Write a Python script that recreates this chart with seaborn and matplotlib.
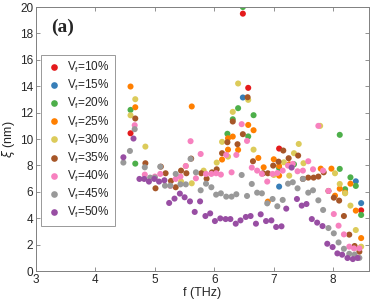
import numpy as np
import pandas as pd
import matplotlib
matplotlib.use("Agg")
import matplotlib.pyplot as plt
import seaborn as sns

# values (f in THz, xi in nm)
labels = ['10%', '15%', '20%', '25%', '30%', '35%', '40%', '45%', '50%']
colors = ['#e41a1c', '#377eb8', '#4daf4a', '#ff7f00', '#dccb5a',
          '#a65628', '#f781bf', '#999999', '#984ea3']

f_10 = [4.59, 6.48, 6.57, 7.09, 8.47]
xi_10 = [10.44, 19.5, 13.88, 9.28, 4.60]

f_15 = [6.48, 7.09, 8.38, 8.47]
xi_15 = [13.15, 6.40, 6.80, 5.15]

f_20 = [4.59, 4.67, 6.22, 6.31, 6.40, 6.48, 6.57, 6.66, 7.09, 7.34,
        8.11, 8.11, 8.20, 8.29, 8.38, 8.47]
xi_20 = [12.21, 8.14, 10.40, 11.5, 12.34, 20.0, 10.2, 11.81, 7.79, 8.09,
         10.32, 7.74, 6.2, 7.1, 6.45, 4.25]

f_25 = [4.59, 4.67, 5.62, 6.13, 6.23, 6.23, 6.31, 6.40, 6.57, 6.66,
        6.74, 6.83, 6.90, 7.00, 7.09, 7.09, 7.26, 7.79, 7.97, 8.03,
        8.11, 8.20, 8.29, 8.38, 8.47]
xi_25 = [13.98, 12.41, 12.47, 8.45, 9.20, 10.06, 10.19, 9.18, 11.07, 10.67,
         8.57, 7.86, 5.26, 8.47, 7.96, 7.23, 8.09, 7.76, 7.76, 5.71,
         6.24, 5.94, 6.62, 4.58, 2.50]

f_30 = [4.59, 4.67, 4.84, 5.44, 5.52, 5.62, 5.82, 6.04, 6.13, 6.23,
        6.31, 6.40, 6.57, 6.66, 7.00, 7.17, 7.26, 7.34, 7.42, 7.50,
        7.78, 8.03, 8.11, 8.20, 8.29, 8.38, 8.47]
xi_30 = [11.8, 13.02, 9.43, 6.79, 7.96, 6.65, 7.61, 8.22, 9.79, 8.67,
         12.06, 14.21, 12.97, 9.20, 7.28, 8.24, 7.23, 8.93, 9.63, 8.17,
         11.0, 7.41, 6.60, 5.89, 4.96, 3.11, 1.85]

f_35 = [4.67, 4.84, 5.01, 5.10, 5.18, 5.27, 5.35, 5.44, 5.53, 5.61,
        5.78, 5.87, 5.96, 6.04, 6.13, 6.22, 6.31, 6.39, 6.48, 6.56,
        6.65, 6.82, 6.90, 6.99, 7.08, 7.16, 7.25, 7.41, 7.49, 7.58,
        7.67, 7.75, 7.84, 7.92, 8.01, 8.10, 8.18, 8.27, 8.36, 8.44]
xi_35 = [11.56, 8.17, 6.27, 7.91, 7.41, 6.83, 6.35, 7.61, 7.41, 8.52,
         7.41, 7.00, 7.48, 7.71, 8.93, 9.76, 11.33, 9.61, 10.37, 13.17,
         8.32, 7.41, 7.41, 7.99, 8.29, 9.13, 8.55, 8.75, 6.98, 7.08,
         7.08, 7.16, 7.48, 6.07, 5.56, 5.34, 4.17, 2.76, 1.90, 1.47]

f_40 = [4.66, 4.83, 5.00, 5.09, 5.26, 5.35, 5.43, 5.52, 5.60, 5.69,
        5.77, 5.86, 5.95, 6.03, 6.11, 6.20, 6.29, 6.37, 6.46, 6.55,
        6.63, 6.72, 6.80, 6.89, 6.98, 7.06, 7.15, 7.24, 7.32, 7.40,
        7.49, 7.58, 7.66, 7.75, 7.83, 7.92, 8.01, 8.09, 8.18, 8.27,
        8.35, 8.44]
xi_40 = [11.05, 7.31, 7.16, 7.36, 6.45, 6.98, 7.16, 7.96, 9.84, 7.03,
         8.87, 7.36, 7.36, 7.41, 7.31, 8.80, 7.48, 8.80, 11.13, 9.86,
         7.84, 7.61, 7.36, 6.78, 7.36, 7.43, 7.61, 7.99, 8.12, 7.56,
         7.61, 8.32, 7.71, 11.0, 7.61, 6.07, 4.32, 3.44, 2.78, 1.85,
         1.72, 1.72]

f_45 = [4.47, 4.58, 4.66, 4.83, 4.92, 5.00, 5.09, 5.17, 5.26, 5.35,
        5.43, 5.52, 5.60, 5.69, 5.77, 5.86, 5.95, 6.03, 6.11, 6.20,
        6.29, 6.37, 6.46, 6.55, 6.63, 6.72, 6.80, 6.89, 6.98, 7.06,
        7.15, 7.24, 7.32, 7.40, 7.49, 7.58, 7.66, 7.75, 7.83, 7.92,
        8.01, 8.09, 8.18, 8.27, 8.36, 8.44]
xi_45 = [8.22, 9.10, 10.75, 7.86, 7.08, 7.08, 7.91, 6.47, 6.47, 7.36,
         6.57, 6.57, 8.50, 7.48, 6.12, 6.62, 6.35, 5.79, 5.89, 5.64,
         5.64, 5.82, 7.28, 5.69, 6.60, 5.94, 5.89, 5.13, 5.46, 4.91,
         5.39, 6.62, 6.73, 6.27, 6.98, 5.94, 6.12, 5.36, 4.63, 3.26,
         2.86, 2.17, 1.69, 1.31, 1.25, 1.00]

f_50 = [4.47, 4.64, 4.74, 4.82, 4.90, 4.99, 5.07, 5.16, 5.24, 5.33,
        5.42, 5.50, 5.59, 5.67, 5.76, 5.85, 5.93, 6.01, 6.10, 6.19,
        6.27, 6.36, 6.44, 6.53, 6.61, 6.70, 6.78, 6.87, 6.96, 7.04,
        7.13, 7.21, 7.30, 7.39, 7.47, 7.55, 7.64, 7.73, 7.82, 7.90,
        7.99, 8.07, 8.15, 8.24, 8.33, 8.41]
xi_50 = [8.62, 10.04, 6.98, 6.98, 6.78, 6.98, 6.78, 6.88, 5.16, 5.49,
         5.87, 5.59, 5.28, 4.48, 5.28, 4.17, 4.37, 3.79, 3.99, 3.94,
         3.94, 3.59, 3.84, 4.10, 4.17, 3.59, 4.30, 3.79, 3.84, 3.34,
         3.39, 4.73, 7.84, 5.46, 4.96, 5.08, 3.94, 3.67, 3.41, 2.07,
         1.82, 1.34, 1.24, 0.99, 0.91, 0.99]

all_f = [f_10, f_15, f_20, f_25, f_30, f_35, f_40, f_45, f_50]
all_xi = [xi_10, xi_15, xi_20, xi_25, xi_30, xi_35, xi_40, xi_45, xi_50]

rows = []
for lab, fs, xs in zip(labels, all_f, all_xi):
    for f, x in zip(fs, xs):
        rows.append({'f': f, 'xi': x, 'Vf': r'V$_\mathregular{f}$=' + lab})
df = pd.DataFrame(rows)
hue_order = [r'V$_\mathregular{f}$=' + l for l in labels]

sns.set_style('ticks')
plt.rcParams['font.family'] = ['Liberation Sans', 'DejaVu Sans']
plt.rcParams['mathtext.fontset'] = 'custom'
plt.rcParams['mathtext.rm'] = 'Liberation Sans'

fig = plt.figure(figsize=(3.74, 3.07), dpi=100)
ax = fig.add_axes([0.0963, 0.117, 0.890, 0.860])

sns.scatterplot(data=df, x='f', y='xi', hue='Vf', hue_order=hue_order,
                palette=colors, s=19, linewidth=0, ax=ax, legend=True)

ax.set_xlim(3, 8.6)
ax.set_ylim(0, 20)
ax.set_xticks([3, 4, 5, 6, 7, 8])
ax.set_yticks(np.arange(0, 21, 2))
ax.set_xlabel('f (THz)', fontsize=9, labelpad=1)
ax.set_ylabel(r'$\xi$ (nm)', fontsize=9, labelpad=2)
ax.tick_params(direction='in', length=3, width=0.6, labelsize=8.5,
               colors='#262626', pad=2, top=True, right=True)
for sp in ax.spines.values():
    sp.set_visible(True)
    sp.set_color('#808080')
    sp.set_linewidth(0.7)
ax.tick_params(color='#808080')

ax.text(0.046, 0.955, '(a)', transform=ax.transAxes, fontsize=14,
        fontweight='bold', family='Liberation Serif', va='top')

leg = ax.legend(loc='upper left', bbox_to_anchor=(0.014, 0.82),
                fontsize=8.5, frameon=True, fancybox=False,
                borderpad=0.45, labelspacing=0.26, handletextpad=0.5,
                handlelength=1.3, markerscale=1.1, borderaxespad=0)
leg.get_frame().set_edgecolor('#808080')
leg.get_frame().set_linewidth(0.7)

fig.savefig('out.png', dpi=100)
